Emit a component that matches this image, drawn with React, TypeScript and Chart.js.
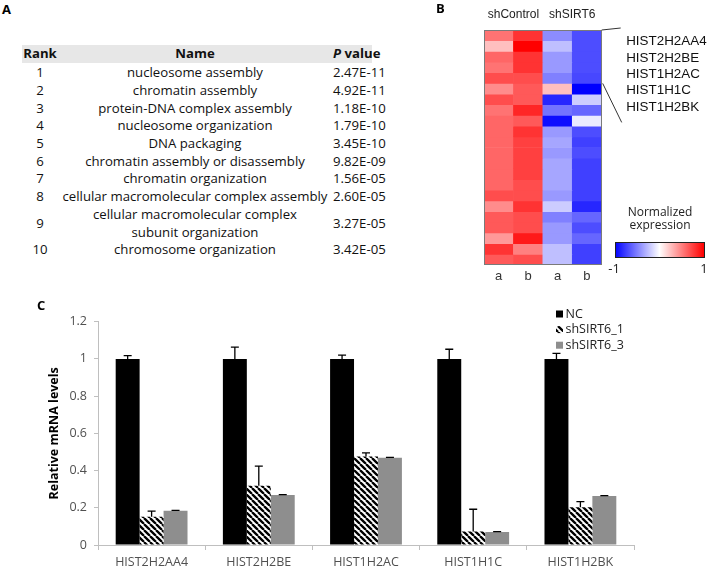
import React, { useEffect, useRef } from "react";
import { Chart, registerables } from "chart.js";

Chart.register(...registerables);

// ---------- Panel A: GO table ----------
const goRanks = ["1", "2", "3", "4", "5", "6", "7", "8", "9", "10"];
const goNames = [
  "nucleosome assembly",
  "chromatin assembly",
  "protein-DNA complex assembly",
  "nucleosome organization",
  "DNA packaging",
  "chromatin assembly or disassembly",
  "chromatin organization",
  "cellular macromolecular complex assembly",
  "cellular macromolecular complex\nsubunit organization",
  "chromosome organization",
];
const goPValues = [
  "2.47E-11",
  "4.92E-11",
  "1.18E-10",
  "1.79E-10",
  "3.45E-10",
  "9.82E-09",
  "1.56E-05",
  "2.60E-05",
  "3.27E-05",
  "3.42E-05",
];

// ---------- Panel B: heatmap ----------
const heatColumns = ["a", "b", "a", "b"];
const heatGroups = ["shControl", "shSIRT6"];
const shControlA = [0.55, 0.25, 0.6, 0.55, 0.7, 0.45, 0.7, 0.55, 0.6, 0.6, 0.6, 0.6, 0.6, 0.6, 0.6, 0.7, 0.45, 0.65, 0.65, 0.4, 0.8, 0.65];
const shControlB = [0.8, 1.0, 0.8, 0.8, 0.7, 0.65, 0.65, 0.85, 0.65, 0.8, 0.75, 0.75, 0.75, 0.75, 0.7, 0.7, 0.8, 0.7, 0.7, 0.9, 0.5, 0.7];
const shSIRT6A = [-0.45, -0.25, -0.4, -0.4, -0.5, 0.25, -0.85, -0.55, -0.95, -0.4, -0.35, -0.4, -0.35, -0.35, -0.35, -0.4, -0.2, -0.5, -0.4, -0.4, -0.25, -0.25];
const shSIRT6B = [-0.7, -0.7, -0.7, -0.7, -0.72, -1.0, -0.2, -0.6, -0.08, -0.7, -0.75, -0.7, -0.75, -0.75, -0.75, -0.75, -0.85, -0.6, -0.7, -0.6, -0.75, -0.75];
const markedGenes = ["HIST2H2AA4", "HIST2H2BE", "HIST1H2AC", "HIST1H1C", "HIST1H2BK"];
const colorbarTitle = ["Normalized", "expression"];
const colorbarTicks = ["-1", "1"];

// ---------- Panel C: qPCR bars ----------
const genes = ["HIST2H2AA4", "HIST2H2BE", "HIST1H2AC", "HIST1H1C", "HIST1H2BK"];
const seriesNames = ["NC", "shSIRT6_1", "shSIRT6_3"];
const ncValues = [1, 1, 1, 1, 1];
const ncErrors = [0.018, 0.063, 0.02, 0.052, 0.03];
const sh1Values = [0.152, 0.319, 0.475, 0.072, 0.203];
const sh1Errors = [0.03, 0.105, 0.02, 0.12, 0.03];
const sh3Values = [0.184, 0.269, 0.469, 0.07, 0.263];
const sh3Errors = [0.002, 0.002, 0.002, 0.002, 0.002];
const yTicks = [0, 0.2, 0.4, 0.6, 0.8, 1, 1.2];
const yTitle = "Relative mRNA levels";

const SANS = "'Open Sans', 'Noto Sans', sans-serif";
const ARIAL = "'Liberation Sans', Arial, sans-serif";

function heatColor(v: number): string {
  const t = Math.max(-1, Math.min(1, v));
  if (t < 0) {
    const c = Math.round(255 * (1 + t));
    return `rgb(${c},${c},255)`;
  }
  const c = Math.round(255 * (1 - t));
  return `rgb(255,${c},${c})`;
}

function makeHatch(): CanvasPattern | string {
  const s = 6;
  const c = document.createElement("canvas");
  c.width = s;
  c.height = s;
  const g = c.getContext("2d");
  if (!g) return "#555";
  g.fillStyle = "#fff";
  g.fillRect(0, 0, s, s);
  g.strokeStyle = "#000";
  g.lineWidth = 2.3;
  g.beginPath();
  for (let k = -1; k <= 1; k++) {
    g.moveTo(k * s, 0);
    g.lineTo(k * s + s, s);
  }
  g.stroke();
  return g.createPattern(c, "repeat") || "#555";
}

function HeatmapChart() {
  const ref = useRef<HTMLCanvasElement | null>(null);
  useEffect(() => {
    if (!ref.current) return;
    const columns = [shControlA, shControlB, shSIRT6A, shSIRT6B];
    const nRows = shControlA.length;
    const datasets = shControlA.map((_, r) => ({
      label: "row" + r,
      data: heatColumns.map(() => 1),
      backgroundColor: columns.map((col) => heatColor(col[r])),
      borderWidth: 0,
      barPercentage: 1,
      categoryPercentage: 1,
      stack: "heat",
    }));

    const extras = {
      id: "heatExtras",
      afterDraw(chart: any) {
        const ctx = chart.ctx as CanvasRenderingContext2D;
        const { left, right, top, bottom } = chart.chartArea;
        const xs = chart.scales.x;
        const ys = chart.scales.y;
        ctx.save();
        // frame
        ctx.strokeStyle = "#7a7a7a";
        ctx.lineWidth = 1;
        ctx.strokeRect(Math.round(left) + 0.5, Math.round(top) + 0.5, Math.round(right - left) - 1, Math.round(bottom - top) - 1);
        // group labels
        ctx.fillStyle = "#222";
        ctx.font = `12px ${ARIAL}`;
        ctx.textAlign = "center";
        ctx.textBaseline = "middle";
        heatGroups.forEach((g, gi) => {
          const x = (xs.getPixelForValue(gi * 2) + xs.getPixelForValue(gi * 2 + 1)) / 2;
          ctx.fillText(g, x, top - 15);
        });
        // connector lines
        ctx.strokeStyle = "#333";
        ctx.lineWidth = 1;
        ctx.beginPath();
        ctx.moveTo(right, top);
        ctx.lineTo(right + 19, top - 2);
        const yEnd = ys.getPixelForValue(markedGenes.length);
        ctx.moveTo(right + 1, yEnd);
        ctx.lineTo(right + 20, yEnd + 39);
        ctx.stroke();
        // gene labels
        ctx.font = `13.4px ${ARIAL}`;
        ctx.textAlign = "left";
        ctx.fillStyle = "#111";
        markedGenes.forEach((g, i) => {
          ctx.fillText(g, right + 24.5, top + 11.7 + i * 16.3);
        });
        // colorbar
        const cbL = right + 13.3;
        const cbR = right + 102.3;
        const cbT = 242;
        const cbB = 257;
        const grad = ctx.createLinearGradient(cbL, 0, cbR, 0);
        grad.addColorStop(0, heatColor(-1));
        grad.addColorStop(0.5, heatColor(0));
        grad.addColorStop(1, heatColor(1));
        ctx.fillStyle = grad;
        ctx.fillRect(cbL, cbT, cbR - cbL, cbB - cbT);
        ctx.strokeStyle = "#222";
        ctx.strokeRect(Math.round(cbL) + 0.5, cbT + 0.5, Math.round(cbR - cbL), cbB - cbT);
        ctx.fillStyle = "#222";
        ctx.font = `12px ${SANS}`;
        ctx.textAlign = "center";
        const cbC = (cbL + cbR) / 2;
        ctx.fillText(colorbarTitle[0], cbC + 0.5, 212.7);
        ctx.fillText(colorbarTitle[1], cbC + 0.5, 225.5);
        ctx.font = `13px ${SANS}`;
        ctx.fillText(colorbarTicks[0], cbL - 1, 269);
        ctx.fillText(colorbarTicks[1], cbR, 269);
        ctx.restore();
      },
    };

    const chart = new Chart(ref.current, {
      type: "bar",
      data: { labels: heatColumns, datasets },
      options: {
        animation: false,
        responsive: false,
        devicePixelRatio: 1,
        events: [],
        layout: { padding: { left: 44, right: 106.3, top: 30, bottom: 5 } },
        plugins: { legend: { display: false }, tooltip: { enabled: false } },
        scales: {
          x: {
            stacked: true,
            grid: { display: false, drawTicks: false },
            border: { display: false },
            ticks: { font: { size: 13, family: ARIAL }, color: "#333", padding: 4 },
            afterFit: (s: any) => {
              s.height = 20;
            },
          },
          y: {
            stacked: true,
            display: false,
            min: 0,
            max: nRows,
            reverse: true,
          },
        },
      },
      plugins: [extras],
    } as any);
    return () => chart.destroy();
  }, []);
  return <canvas ref={ref} width={268} height={290} style={{ position: "absolute", left: 440, top: 0 }} />;
}

function BarChart() {
  const ref = useRef<HTMLCanvasElement | null>(null);
  useEffect(() => {
    if (!ref.current) return;
    const hatch = makeHatch();
    const errorSets = [ncErrors, sh1Errors, sh3Errors];
    const colors: any[] = ["#000000", hatch, "#8e8e8e"];

    const errorBars = {
      id: "errorBars",
      afterDatasetsDraw(chart: any) {
        const ctx = chart.ctx as CanvasRenderingContext2D;
        const ys = chart.scales.y;
        chart.data.datasets.forEach((ds: any, di: number) => {
          const meta = chart.getDatasetMeta(di);
          meta.data.forEach((bar: any, i: number) => {
            const v = ds.data[i];
            const base = ys.getPixelForValue(v);
            const top = ys.getPixelForValue(v + errorSets[di][i]);
            ctx.save();
            ctx.strokeStyle = "#000";
            ctx.lineWidth = 1.3;
            ctx.beginPath();
            ctx.moveTo(bar.x, base);
            ctx.lineTo(bar.x, top);
            ctx.moveTo(bar.x - 4, top);
            ctx.lineTo(bar.x + 4, top);
            ctx.stroke();
            ctx.restore();
          });
        });
      },
    };

    const legend = {
      id: "customLegend",
      afterDraw(chart: any) {
        const ctx = chart.ctx as CanvasRenderingContext2D;
        const { right, top } = chart.chartArea;
        const x = right - 78;
        ctx.save();
        ctx.font = `12.5px ${SANS}`;
        ctx.textBaseline = "middle";
        ctx.textAlign = "left";
        seriesNames.forEach((name, i) => {
          const y = top - 7.7 + i * 15.6;
          ctx.fillStyle = colors[i];
          ctx.fillRect(x, y - 3.5, 7, 7);
          ctx.fillStyle = "#222";
          ctx.fillText(name, x + 9.5, y);
        });
        ctx.restore();
      },
    };

    const datasets = [ncValues, sh1Values, sh3Values].map((vals, i) => ({
      label: seriesNames[i],
      data: vals,
      backgroundColor: colors[i],
      borderWidth: 0,
      barPercentage: 1,
      categoryPercentage: 0.67,
    }));

    const chart = new Chart(ref.current, {
      type: "bar",
      data: { labels: genes, datasets },
      options: {
        animation: false,
        responsive: false,
        devicePixelRatio: 1,
        events: [],
        layout: { padding: { left: 0, right: 74, top: 31.7, bottom: 0 } },
        plugins: { legend: { display: false }, tooltip: { enabled: false } },
        scales: {
          x: {
            grid: { drawOnChartArea: false, drawTicks: true, tickLength: 5, color: "#bfbfbf", offset: true },
            border: { color: "#bfbfbf" },
            ticks: { font: { size: 12.5, family: SANS }, color: "#505050", padding: 5 },
            afterFit: (s: any) => {
              s.height = 23;
            },
          },
          y: {
            min: yTicks[0],
            max: yTicks[yTicks.length - 1],
            afterBuildTicks: (s: any) => {
              s.ticks = yTicks.map((v) => ({ value: v }));
            },
            ticks: {
              font: { size: 12.5, family: SANS },
              color: "#505050",
              padding: 7,
              callback: (v: any) => String(Number(Number(v).toFixed(1))),
            },
            grid: { drawOnChartArea: false, drawTicks: true, tickLength: 4, color: "#bfbfbf" },
            border: { color: "#bfbfbf" },
            title: {
              display: true,
              text: yTitle,
              font: { size: 12.5, family: SANS, weight: "bold" },
              color: "#000",
              padding: { top: 47, bottom: 0 },
            },
            afterFit: (s: any) => {
              s.width = 98;
            },
          },
        },
      },
      plugins: [errorBars, legend],
    } as any);
    return () => chart.destroy();
  }, []);
  return <canvas ref={ref} width={708} height={278} style={{ position: "absolute", left: 0, top: 290 }} />;
}

function GoTable() {
  const LINE = 17.7;
  let top = 64.2;
  const tableLeft = 22;
  const tableRight = 372;
  const cellBase: React.CSSProperties = {
    position: "absolute",
    display: "flex",
    alignItems: "center",
    height: "100%",
    top: 0,
    whiteSpace: "pre-line",
  };
  const rows = goNames.map((name, i) => {
    const lines = name.split("\n").length;
    const h = lines * LINE;
    const el = (
      <div key={i} style={{ position: "absolute", left: 0, top, height: h, width: 420, lineHeight: LINE + "px" }}>
        <div style={{ ...cellBase, left: tableLeft, width: 36, justifyContent: "center" }}>{goRanks[i]}</div>
        <div style={{ ...cellBase, left: 60, width: 270, justifyContent: "center", textAlign: "center" }}>{name}</div>
        <div style={{ ...cellBase, left: 333, whiteSpace: "nowrap" }}>{goPValues[i]}</div>
      </div>
    );
    top += h;
    return el;
  });
  return (
    <div style={{ position: "absolute", left: 0, top: 0, width: 440, height: 290, fontFamily: SANS, fontSize: 13.2, color: "#111" }}>
      <div
        style={{
          position: "absolute",
          left: tableLeft,
          top: 45,
          width: tableRight - tableLeft,
          height: 17.7,
          background: "#e7e7e7",
          fontWeight: "bold",
          lineHeight: "17.7px",
          whiteSpace: "nowrap",
        }}
      >
        <div style={{ position: "absolute", left: 0, width: 36, textAlign: "center" }}>Rank</div>
        <div style={{ position: "absolute", left: 60 - tableLeft, width: 270, textAlign: "center" }}>Name</div>
        <div style={{ position: "absolute", left: 333 - tableLeft, whiteSpace: "nowrap" }}>
          <i>P</i> value
        </div>
      </div>
      {rows}
    </div>
  );
}

export default function App() {
  const label: React.CSSProperties = {
    position: "absolute",
    fontFamily: SANS,
    fontWeight: "bold",
    fontSize: 13,
    lineHeight: "16px",
    color: "#000",
  };
  return (
    <div style={{ position: "absolute", left: 0, top: 0, width: 708, height: 568, background: "#fff", overflow: "hidden" }}>
      <GoTable />
      <HeatmapChart />
      <BarChart />
      <div style={{ ...label, left: 2, top: 1 }}>A</div>
      <div style={{ ...label, left: 436, top: 0 }}>B</div>
      <div style={{ ...label, left: 37, top: 297 }}>C</div>
    </div>
  );
}
